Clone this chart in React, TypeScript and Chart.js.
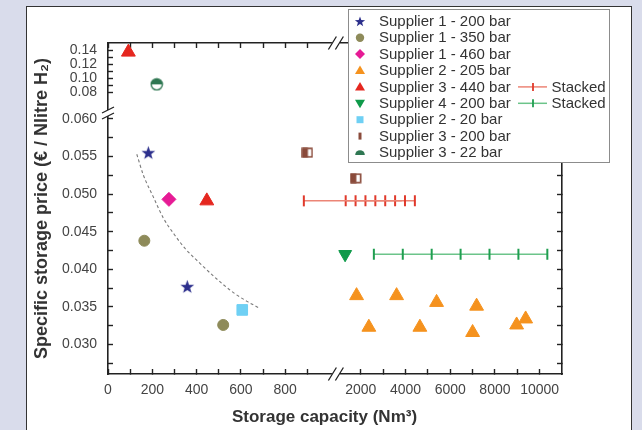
import React, { useEffect, useRef } from 'react';
import { Chart, registerables } from 'chart.js';

Chart.register(...registerables);

// ---------------- data ----------------
const SERIES = [
  'Supplier 1 - 200 bar',
  'Supplier 1 - 350 bar',
  'Supplier 1 - 460 bar',
  'Supplier 2 - 205 bar',
  'Supplier 3 - 440 bar',
  'Supplier 4 - 200 bar',
  'Supplier 2 - 20 bar',
  'Supplier 3 - 200 bar',
  'Supplier 3 - 22 bar',
];
const STACKED_LABEL = 'Stacked';

const S1_200_X = [182, 358];
const S1_200_Y = [0.0555, 0.0377];
const S1_350_X = [164, 520];
const S1_350_Y = [0.0438, 0.0326];
const S1_460_X = [275];
const S1_460_Y = [0.0493];
const S2_205_X = [1812, 3602, 5391, 7181, 2362, 4644, 7002, 8971, 9374];
const S2_205_Y = [0.0365, 0.0365, 0.0356, 0.0351, 0.0323, 0.0323, 0.0316, 0.0326, 0.0334];
const S3_440_X = [92, 446];
const S3_440_Y = [0.137, 0.0491];
const S4_200_X = [1300];
const S4_200_Y = [0.042];
const S2_20_X = [606];
const S2_20_Y = [0.0346];
const S3_200_X = [900, 1781];
const S3_200_Y = [0.0555, 0.0521];
const S3_22_X = [220];
const S3_22_Y = [0.091];
const S3_STACK_X = [884, 1326, 1768, 2210, 2652, 3094, 3536, 3978, 4420];
const S3_STACK_Y = [0.0491, 0.0491, 0.0491, 0.0491, 0.0491, 0.0491, 0.0491, 0.0491, 0.0491];
const S4_STACK_X = [2586, 3879, 5172, 6465, 7758, 9051, 10344];
const S4_STACK_Y = [0.042, 0.042, 0.042, 0.042, 0.042, 0.042, 0.042];
const FIT_X = [130, 160, 205, 250, 300, 350, 415, 480, 566, 630, 686];
const FIT_Y = [0.0553, 0.0525, 0.0496, 0.0468, 0.0446, 0.0427, 0.0408, 0.0390, 0.0369, 0.0357, 0.0348];

// tick values and labels
const XL_TICKS = [0, 100, 200, 300, 400, 500, 600, 700, 800, 900];
const XL_LABELS = [0, 200, 400, 600, 800];
const XR_TICKS = [2000, 3000, 4000, 5000, 6000, 7000, 8000, 9000, 10000];
const XR_LABELS = [2000, 4000, 6000, 8000, 10000];
const YH_TICKS = [0.08, 0.09, 0.1, 0.11, 0.12, 0.13, 0.14];
const YH_LABELS = [0.08, 0.1, 0.12, 0.14];
const YL_TICKS = [0.0275, 0.03, 0.0325, 0.035, 0.0375, 0.04, 0.0425, 0.045, 0.0475, 0.05, 0.0525, 0.055, 0.0575, 0.06];
const YL_LABELS = [0.03, 0.035, 0.04, 0.045, 0.05, 0.055, 0.06];

const X_TITLE = 'Storage capacity (Nm³)';
const Y_TITLE = 'Specific storage price (€ / Nlitre H₂)';

// ---------------- axis ranges / layout ----------------
const XL_MIN = 0, XL_MAX = 1040, XR_MIN = 1000, XR_MAX = 11000;
const YH_MIN = 0.053, YH_MAX = 0.15, YL_MIN = 0.02608, YL_MAX = 0.06105;
const W_XL = 230.4, W_XR = 223.6, W_YH = 68, W_YL = 263;
const XT_MAX = XL_MIN + (XL_MAX - XL_MIN) * (W_XL + W_XR) / W_XL;
const YR_MAX = YL_MIN + (YL_MAX - YL_MIN) * (W_YH + W_YL) / W_YL;

const FONT = "'Liberation Sans', Arial, Helvetica, sans-serif";
const AXIS = '#222222';
const C_NAVY = '#2c2f8c';
const C_OLIVE = '#8e8b5a';
const C_MAGENTA = '#e61b95';
const C_ORANGE = '#f5921e';
const C_RED = '#e5271f';
const C_GREEN = '#0f9a4a';
const C_LBLUE = '#6fd0f4';
const C_BROWN = '#8a4b3b';
const C_DGREEN = '#2f7752';
const C_RED_LINE = '#ec8576';
const C_RED_TICK = '#e0392b';
const C_GRN_LINE = '#6cc48a';
const C_GRN_TICK = '#1f9e50';

Chart.defaults.font.family = FONT;

function makeAxis(o: any) {
  return {
    type: 'linear',
    position: o.position,
    min: o.min,
    max: o.max,
    bounds: 'data',
    ...(o.stack ? { stack: o.stack, stackWeight: o.weight } : {}),
    afterBuildTicks: (s: any) => {
      s.ticks = o.ticks.map((v: number) => ({ value: v }));
    },
    afterFit: (s: any) => {
      if (o.position === 'left' || o.position === 'right') s.width = o.fit;
      else s.height = o.fit;
    },
    grid: { display: true, drawOnChartArea: false, drawTicks: true, tickLength: -5, tickColor: AXIS, tickWidth: 1.4 },
    border: { display: true, color: AXIS, width: 1.6 },
    ticks: {
      display: o.showLabels,
      autoSkip: false,
      maxRotation: 0,
      minRotation: 0,
      padding: o.padding || 0,
      color: '#444',
      font: { family: FONT, size: 14 },
      callback: (v: any) => {
        const hit = o.labels.find((l: number) => Math.abs(l - Number(v)) < 1e-7);
        return hit === undefined ? '' : hit.toFixed(o.decimals);
      },
    },
  };
}

function groups(xs: number[], ys: number[]) {
  const g: Record<string, { x: number; y: number }[]> = { LL: [], LH: [], RL: [], RH: [] };
  xs.forEach((x, i) => {
    const y = ys[i];
    const k = (x < XL_MAX ? 'L' : 'R') + (y > YL_MAX ? 'H' : 'L');
    g[k].push({ x, y });
  });
  return g;
}

function markerSets(label: string, xs: number[], ys: number[], style: any) {
  const g = groups(xs, ys);
  const out: any[] = [];
  ['LL', 'LH', 'RL', 'RH'].forEach((k) => {
    if (!g[k].length) return;
    out.push({
      label,
      data: g[k],
      xAxisID: k[0] === 'L' ? 'xL' : 'xR',
      yAxisID: k[1] === 'L' ? 'yL' : 'yH',
      showLine: false,
      ...style,
    });
  });
  return out;
}

function lineSets(label: string, xs: number[], ys: number[], style: any) {
  const g = groups(xs, ys);
  const left = g.LL, right = g.RL;
  const out: any[] = [];
  if (left.length) {
    const data = right.length ? [...left, right[0]] : left;
    out.push({
      label, data, xAxisID: 'xL', yAxisID: 'yL', showLine: true, ...style,
      clip: false,
      pointRadius: data.map((_, i) => (i < left.length ? style.pointRadius : 0)),
    });
  }
  if (right.length) {
    out.push({ label, data: right, xAxisID: 'xR', yAxisID: 'yL', showLine: true, ...style });
  }
  return out;
}

function starPath(ctx: CanvasRenderingContext2D, cx: number, cy: number, ro: number, ri: number) {
  ctx.beginPath();
  for (let i = 0; i < 10; i++) {
    const r = i % 2 === 0 ? ro : ri;
    const a = -Math.PI / 2 + (i * Math.PI) / 5;
    const px = cx + r * Math.cos(a);
    const py = cy + r * Math.sin(a);
    if (i === 0) ctx.moveTo(px, py);
    else ctx.lineTo(px, py);
  }
  ctx.closePath();
}

function makeCanvas(w: number, h: number, draw: (g: CanvasRenderingContext2D) => void) {
  const c = document.createElement('canvas');
  c.width = w;
  c.height = h;
  const g = c.getContext('2d') as CanvasRenderingContext2D;
  draw(g);
  return c;
}

function drawXBreak(ctx: CanvasRenderingContext2D, cx: number, cy: number) {
  ctx.fillStyle = '#fff';
  ctx.fillRect(cx - 4, cy - 3, 8, 6);
  ctx.strokeStyle = AXIS;
  ctx.lineWidth = 1.3;
  ctx.beginPath();
  ctx.moveTo(cx - 7.5, cy + 6.5);
  ctx.lineTo(cx + 0.5, cy - 6.5);
  ctx.moveTo(cx - 0.5, cy + 6.5);
  ctx.lineTo(cx + 7.5, cy - 6.5);
  ctx.stroke();
}

function drawYBreak(ctx: CanvasRenderingContext2D, cx: number, cy: number) {
  ctx.fillStyle = '#fff';
  ctx.fillRect(cx - 3, cy - 3.5, 6, 6);
  ctx.strokeStyle = AXIS;
  ctx.lineWidth = 1.3;
  ctx.beginPath();
  ctx.moveTo(cx - 6, cy - 0.5);
  ctx.lineTo(cx + 6, cy - 6.5);
  ctx.moveTo(cx - 6, cy + 5.5);
  ctx.lineTo(cx + 6, cy - 0.5);
  ctx.stroke();
}

function legendMarker(ctx: CanvasRenderingContext2D, i: number, x: number, y: number) {
  ctx.save();
  ctx.beginPath();
  switch (i) {
    case 0:
      starPath(ctx, x, y + 0.5, 5.4, 2.2);
      ctx.fillStyle = C_NAVY;
      break;
    case 1:
      ctx.arc(x, y, 4.2, 0, Math.PI * 2);
      ctx.fillStyle = C_OLIVE;
      break;
    case 2:
      ctx.moveTo(x - 5, y); ctx.lineTo(x, y - 5); ctx.lineTo(x + 5, y); ctx.lineTo(x, y + 5); ctx.closePath();
      ctx.fillStyle = C_MAGENTA;
      break;
    case 3:
    case 4:
      ctx.moveTo(x, y - 5); ctx.lineTo(x + 5, y + 3.5); ctx.lineTo(x - 5, y + 3.5); ctx.closePath();
      ctx.fillStyle = i === 3 ? C_ORANGE : C_RED;
      break;
    case 5:
      ctx.moveTo(x - 5, y - 3.5); ctx.lineTo(x + 5, y - 3.5); ctx.lineTo(x, y + 5); ctx.closePath();
      ctx.fillStyle = C_GREEN;
      break;
    case 6:
      ctx.rect(x - 3.5, y - 3.5, 7, 7);
      ctx.fillStyle = C_LBLUE;
      break;
    case 7:
      ctx.rect(x - 1.5, y - 3.5, 3, 7);
      ctx.fillStyle = C_BROWN;
      break;
    case 8:
      ctx.arc(x, y + 2.5, 4.8, Math.PI, Math.PI * 2);
      ctx.closePath();
      ctx.fillStyle = C_DGREEN;
      break;
  }
  ctx.fill();
  ctx.restore();
}

const decorPlugin = {
  id: 'decor',
  afterDraw(chart: any) {
    const ctx: CanvasRenderingContext2D = chart.ctx;
    const a = chart.chartArea;
    const bx = chart.scales.xL.right - 2.5;
    const by = chart.scales.yH.bottom + 2.5;
    ctx.save();
    drawXBreak(ctx, bx, a.bottom);
    drawXBreak(ctx, bx, a.top);
    drawYBreak(ctx, a.left, by);

    // legend box
    const L = 348, T = 9, W = 262, H = 154;
    ctx.fillStyle = '#fff';
    ctx.fillRect(L, T, W, H);
    ctx.strokeStyle = '#8c8c8c';
    ctx.lineWidth = 1;
    ctx.strokeRect(L + 0.5, T + 0.5, W - 1, H - 1);
    ctx.font = `15px ${FONT}`;
    ctx.textBaseline = 'middle';
    ctx.textAlign = 'left';
    SERIES.forEach((name, i) => {
      const y = T + 12.3 + i * 16.4;
      legendMarker(ctx, i, L + 12, y);
      ctx.fillStyle = '#333';
      ctx.fillText(name, L + 31, y + 0.5);
      if (i === 4 || i === 5) {
        const lc = i === 4 ? C_RED_LINE : C_GRN_LINE;
        const tc = i === 4 ? C_RED_TICK : C_GRN_TICK;
        ctx.strokeStyle = lc;
        ctx.lineWidth = 1.5;
        ctx.beginPath();
        ctx.moveTo(518, y);
        ctx.lineTo(547, y);
        ctx.stroke();
        ctx.strokeStyle = tc;
        ctx.lineWidth = 1.8;
        ctx.beginPath();
        ctx.moveTo(533, y - 4);
        ctx.lineTo(533, y + 4);
        ctx.stroke();
        ctx.fillStyle = '#333';
        ctx.fillText(STACKED_LABEL, 551.5, y + 0.5);
      }
    });
    ctx.restore();
  },
};

export default function App() {
  const ref = useRef<HTMLCanvasElement>(null);

  useEffect(() => {
    const canvas = ref.current;
    if (!canvas) return;

    const starImg = makeCanvas(17, 17, (g) => {
      starPath(g, 8.5, 9, 7.2, 2.9);
      g.fillStyle = C_NAVY;
      g.fill();
    });
    const halfSquareImg = makeCanvas(12, 11, (g) => {
      g.fillStyle = '#fff';
      g.fillRect(0.5, 0.5, 11, 10);
      g.fillStyle = C_BROWN;
      g.fillRect(0.5, 0.5, 6, 10);
      g.strokeStyle = C_BROWN;
      g.lineWidth = 1.6;
      g.strokeRect(1.3, 1.3, 9.4, 8.4);
    });
    const halfCircleImg = makeCanvas(14, 14, (g) => {
      g.beginPath();
      g.arc(7, 7, 5.6, 0, Math.PI * 2);
      g.fillStyle = '#fff';
      g.fill();
      g.beginPath();
      g.arc(7, 7, 5.6, Math.PI, Math.PI * 2);
      g.closePath();
      g.fillStyle = C_DGREEN;
      g.fill();
      g.beginPath();
      g.arc(7, 7, 5.6, 0, Math.PI * 2);
      g.strokeStyle = C_DGREEN;
      g.lineWidth = 1.4;
      g.stroke();
    });

    const mk = (color: string, extra: any) => ({
      pointBackgroundColor: color,
      pointBorderColor: color,
      pointBorderWidth: 1,
      ...extra,
    });

    const datasets = [
      ...lineSets('Trend', FIT_X, FIT_Y, {
        borderColor: '#7a7a7a', borderWidth: 1.1, borderDash: [3, 2.5], pointRadius: 0,
        cubicInterpolationMode: 'monotone',
      }),
      ...lineSets(SERIES[4] + ' ' + STACKED_LABEL, S3_STACK_X, S3_STACK_Y, {
        borderColor: C_RED_LINE, borderWidth: 1.5, pointStyle: 'line', pointRotation: 90,
        pointRadius: 5.5, pointBorderColor: C_RED_TICK, pointBackgroundColor: C_RED_TICK, pointBorderWidth: 2,
      }),
      ...lineSets(SERIES[5] + ' ' + STACKED_LABEL, S4_STACK_X, S4_STACK_Y, {
        borderColor: C_GRN_LINE, borderWidth: 1.5, pointStyle: 'line', pointRotation: 90,
        pointRadius: 5.5, pointBorderColor: C_GRN_TICK, pointBackgroundColor: C_GRN_TICK, pointBorderWidth: 2,
      }),
      ...markerSets(SERIES[0], S1_200_X, S1_200_Y, { pointStyle: starImg, pointRadius: 7 }),
      ...markerSets(SERIES[1], S1_350_X, S1_350_Y, mk(C_OLIVE, { pointStyle: 'circle', pointRadius: 5.5 })),
      ...markerSets(SERIES[2], S1_460_X, S1_460_Y, mk(C_MAGENTA, { pointStyle: 'rectRot', pointRadius: 7 })),
      ...markerSets(SERIES[3], S2_205_X, S2_205_Y, mk(C_ORANGE, { pointStyle: 'triangle', pointRadius: 8 })),
      ...markerSets(SERIES[4], S3_440_X, S3_440_Y, mk(C_RED, { pointStyle: 'triangle', pointRadius: 8 })),
      ...markerSets(SERIES[5], S4_200_X, S4_200_Y, mk(C_GREEN, { pointStyle: 'triangle', pointRotation: 180, pointRadius: 7.5 })),
      ...markerSets(SERIES[6], S2_20_X, S2_20_Y, mk(C_LBLUE, { pointStyle: 'rect', pointRadius: 7.5 })),
      ...markerSets(SERIES[7], S3_200_X, S3_200_Y, { pointStyle: halfSquareImg, pointRadius: 6 }),
      ...markerSets(SERIES[8], S3_22_X, S3_22_Y, { pointStyle: halfCircleImg, pointRadius: 6 }),
    ];

    const chart = new Chart(canvas, {
      type: 'scatter',
      data: { datasets },
      options: {
        responsive: false,
        animation: false,
        events: [],
        layout: { padding: { left: 7, right: 0, top: 43, bottom: 0 } },
        plugins: {
          legend: { display: false },
          tooltip: { enabled: false },
          title: {
            display: true,
            text: X_TITLE,
            position: 'bottom',
            align: 'center',
            fullSize: true,
            color: '#333',
            font: { family: FONT, size: 17, weight: 'bold' },
            padding: { top: 2.8, bottom: 2.8 },
          },
        },
        scales: {
          xL: makeAxis({ position: 'bottom', stack: 'x', weight: W_XL, min: XL_MIN, max: XL_MAX, ticks: XL_TICKS, labels: XL_LABELS, decimals: 0, showLabels: true, fit: 30, padding: 12.6 }),
          xR: makeAxis({ position: 'bottom', stack: 'x', weight: W_XR, min: XR_MIN, max: XR_MAX, ticks: XR_TICKS, labels: XR_LABELS, decimals: 0, showLabels: true, fit: 30, padding: 12.6 }),
          xT: makeAxis({ position: 'top', min: XL_MIN, max: XT_MAX, ticks: XL_TICKS, labels: [], decimals: 0, showLabels: false, fit: 0 }),
          yL: makeAxis({ position: 'left', stack: 'y', weight: W_YL, min: YL_MIN, max: YL_MAX, ticks: YL_TICKS, labels: YL_LABELS, decimals: 3, showLabels: true, fit: 62, padding: 16 }),
          yH: makeAxis({ position: 'left', stack: 'y', weight: W_YH, min: YH_MIN, max: YH_MAX, ticks: YH_TICKS, labels: YH_LABELS, decimals: 2, showLabels: true, fit: 62, padding: 16 }),
          yR: makeAxis({ position: 'right', min: YL_MIN, max: YR_MAX, ticks: YL_TICKS, labels: [], decimals: 3, showLabels: false, fit: 80 }),
          yT: {
            type: 'linear',
            position: 'left',
            display: true,
            grid: { display: false },
            border: { display: false },
            ticks: { display: false },
            afterFit: (s: any) => { s.width = 39; },
            title: {
              display: true,
              text: Y_TITLE,
              color: '#333',
              font: { family: FONT, size: 18, weight: 'bold' },
              padding: { top: 24.2, bottom: 0 },
            },
          },
        },
      } as any,
      plugins: [decorPlugin],
    } as any);

    return () => chart.destroy();
  }, []);

  return (
    <div style={{ position: 'fixed', left: 0, top: 0, width: 642, height: 430, background: '#d9dceb', overflow: 'hidden' }}>
      <div
        style={{
          position: 'absolute', left: 26, top: 6, width: 606, height: 440,
          background: '#fff', border: '1px solid #333', boxSizing: 'border-box',
        }}
      />
      <canvas ref={ref} width={642} height={430} style={{ position: 'absolute', left: 0, top: 0 }} />
    </div>
  );
}
